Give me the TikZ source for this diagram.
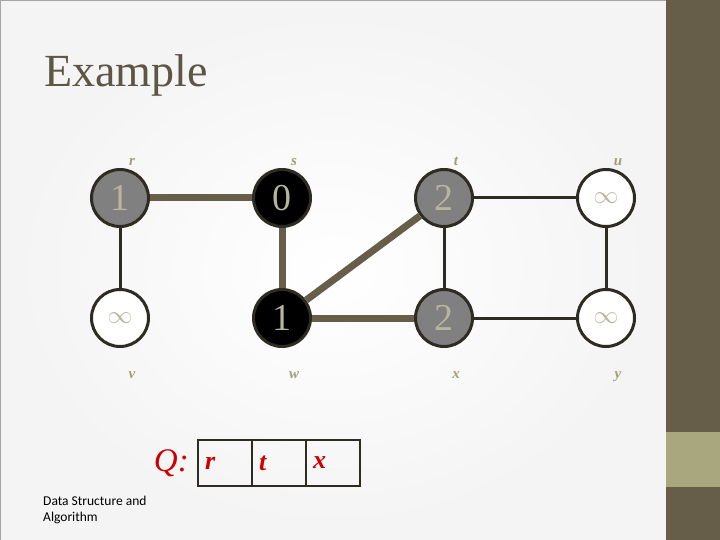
\documentclass[tikz,border=0pt]{standalone}
\usepackage{fontspec}
\setmainfont{Liberation Serif}
\newfontfamily\notefont{Carlito}
\usetikzlibrary{positioning}
\definecolor{olive}{HTML}{665E48}
\definecolor{bandlight}{HTML}{A8A77E}
\definecolor{vtxline}{HTML}{2E2B22}
\definecolor{numcol}{HTML}{B7B59C}
\definecolor{lblcol}{HTML}{A29E77}
\definecolor{nodegray}{HTML}{808080}
\definecolor{qred}{HTML}{CC0000}
\definecolor{titlecol}{HTML}{5D5645}
\tikzset{
  vtx/.style={circle, draw=vtxline, line width=3pt, minimum size=57pt, inner sep=0pt, text=numcol, font=\fontsize{38}{38}\selectfont},
  lbl/.style={inner sep=0pt, text=lblcol, font=\fontsize{15}{15}\selectfont\bfseries\itshape},
  heavy/.style={draw=olive, line width=7pt},
  light/.style={draw=vtxline, line width=3pt},
  cell/.style={draw=vtxline, line width=2.5pt, minimum height=46pt, text width=40pt, inner xsep=7pt, outer sep=0pt, text=qred, font=\fontsize{26}{26}\selectfont\itshape\bfseries},
}
\newcommand{\infval}{$\fontsize{28}{28}\selectfont\infty$}
\begin{document}
\begin{tikzpicture}[x=1pt, y=-1pt, node distance=102pt]
    \useasboundingbox (0,0) rectangle (720,540);
    % slide background and side bar
    \shade[inner color=white, outer color=gray!9] (0,0) rectangle (666,540);
    \draw[gray!70, line width=1.5pt] (0,540) -- (0,0) -- (666,0);
    \fill[olive] (666,0) rectangle (720,540);
    \fill[bandlight] (666,432) rectangle (720,487);
    \node[anchor=base west, inner sep=0pt, text=titlecol, font=\fontsize{46}{46}\selectfont] (title) at (44,87) {Example};
    % vertices
    \node[vtx, fill=nodegray, label={[lbl, xshift=12pt, label distance=2pt]above:r}] (r) at (120,198) {1};
    \node[vtx, fill=black, right=of r, label={[lbl, xshift=12pt, label distance=2pt]above:s}] (s) {0};
    \node[vtx, fill=nodegray, right=of s, label={[lbl, xshift=12pt, label distance=2pt]above:t}] (t) {2};
    \node[vtx, fill=white, right=of t, label={[lbl, xshift=12pt, label distance=2pt]above:u}] (u) {\infval};
    \node[vtx, fill=white, below=60pt of r, label={[lbl, xshift=12pt, label distance=23pt]below:v}] (v) {\infval};
    \node[vtx, fill=black, below=60pt of s, label={[lbl, xshift=12pt, label distance=23pt]below:w}] (w) {1};
    \node[vtx, fill=nodegray, below=60pt of t, label={[lbl, xshift=12pt, label distance=23pt]below:x}] (x) {2};
    \node[vtx, fill=white, below=60pt of u, label={[lbl, xshift=12pt, label distance=23pt]below:y}] (y) {\infval};
    % edges
    \draw[heavy] (r) -- (s);
    \draw[heavy] (s) -- (w);
    \draw[heavy] (w) -- (t);
    \draw[heavy] (w) -- (x);
    \draw[light] (r) -- (v);
    \draw[light] (t) -- (u);
    \draw[light] (t) -- (x);
    \draw[light] (u) -- (y);
    \draw[light] (x) -- (y);
    % queue
    \node[cell] (q1) at (225,463) {r};
    \node[cell, right=0pt of q1] (q2) {t};
    \node[cell, right=0pt of q2] (q3) {x};
    \node[left=9pt of q1, inner sep=0pt, text=qred, font=\fontsize{33}{33}\selectfont\itshape] (qlab) {Q:};
    \node[anchor=north west, inner sep=0pt, align=left, text=black, font=\notefont\fontsize{13.5}{16}\selectfont] (note) at (43,496) {Data Structure and\\Algorithm};
\end{tikzpicture}
\end{document}
